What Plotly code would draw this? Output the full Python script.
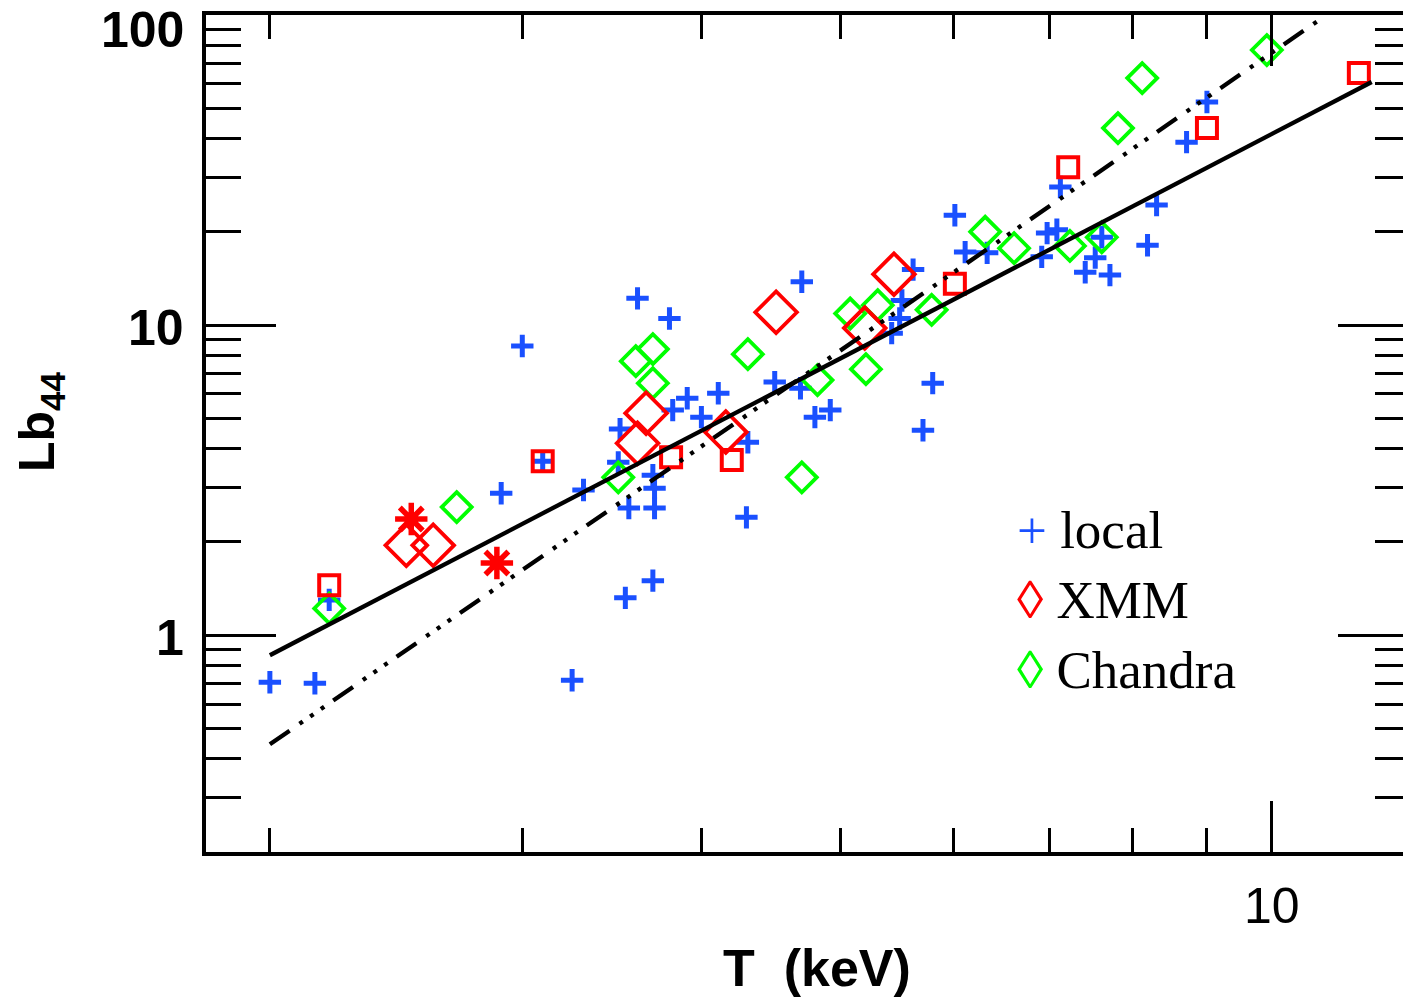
import math
import plotly.graph_objects as go

# Local cluster sample: temperature (keV) and bolometric luminosity (1e44 erg/s)
local_T = [2.00, 2.15, 2.20, 2.90, 3.00, 3.10, 3.25, 3.31, 3.50, 3.51,
           3.54, 3.56, 3.61, 3.70, 3.71, 3.71, 3.70, 3.80, 3.82, 3.91,
           4.00, 4.11, 4.30, 4.31, 4.50, 4.69, 4.70, 4.80, 4.92, 5.43,
           5.50, 5.52, 5.62, 5.71, 5.80, 6.01, 6.11, 6.33, 6.91, 6.97,
           7.08, 7.12, 7.41, 7.53, 7.61, 7.71, 8.19, 8.31, 8.72, 9.01]
local_L = [0.705, 0.700, 1.30, 2.87, 8.56, 3.64, 0.716, 2.94, 3.61, 4.62,
           1.32, 2.57, 12.2, 3.28, 2.98, 2.57, 1.50, 10.5, 5.32, 5.81,
           5.05, 6.03, 2.40, 4.19, 6.55, 6.26, 13.8, 5.05, 5.32, 9.42,
           10.5, 12.0, 15.1, 4.58, 6.50, 22.6, 17.2, 17.1, 16.6, 19.8,
           20.3, 27.9, 14.8, 16.5, 19.2, 14.5, 18.1, 24.4, 38.9, 52.4]

# XMM clusters (diamonds), XMM squares and XMM asterisks
xmm_T = [2.49, 2.60, 3.61, 3.66, 4.16, 4.51, 5.20, 5.45]
xmm_L = [1.95, 1.95, 4.16, 5.20, 4.52, 11.0, 9.78, 14.6]
xmm_sq_T = [2.20, 3.10, 3.81, 4.20, 6.01, 7.21, 9.01, 11.5]
xmm_sq_L = [1.45, 3.64, 3.75, 3.67, 13.6, 32.3, 43.2, 65.0]
xmm_star_T = [2.51, 2.88]
xmm_star_L = [2.37, 1.71]

# Chandra clusters
chandra_T = [2.20, 2.70, 3.50, 3.60, 3.70, 3.70, 4.31, 4.70, 4.82, 5.08,
             5.21, 5.31, 5.79, 6.31, 6.61, 7.23, 7.61, 7.81, 8.12, 9.92]
chandra_L = [1.22, 2.59, 3.23, 7.65, 8.37, 6.50, 8.06, 3.23, 6.65, 10.9,
             7.21, 11.6, 11.2, 20.0, 17.7, 18.0, 19.2, 43.2, 62.6, 77.1]

# Power-law fits (end points; straight on log-log axes)
fit_solid_T = [2.0, 11.74]
fit_solid_L = [0.862, 60.8]
fit_dash_T = [2.0, 10.84]
fit_dash_L = [0.445, 97.8]

# Axis ticks
x_major = [10]
x_minor = [2, 3, 4, 5, 6, 7, 8, 9]
y_major = [1, 10, 100]
y_minor = [0.2, 0.3, 0.4, 0.5, 0.6, 0.7, 0.8, 0.9,
           2, 3, 4, 5, 6, 7, 8, 9,
           20, 30, 40, 50, 60, 70, 80, 90]
y_labels = ["1", "10", "100"]

BLUE = "#1a50ff"
RED = "#ff0000"
GREEN = "#00ff00"

W, H = 1403, 998
ML, MR, MT, MB = 206, 0, 15, 146
PW, PH = W - ML - MR, H - MT - MB


def px(xp):
    return (xp - ML) / PW


def py(yp):
    return 1 - (yp - MT) / PH


fig = go.Figure()

fig.add_trace(go.Scatter(
    x=local_T, y=local_L, mode="markers",
    marker=dict(symbol="cross-thin", size=16, color=BLUE,
                line=dict(color=BLUE, width=5))))
fig.add_trace(go.Scatter(
    x=chandra_T, y=chandra_L, mode="markers",
    marker=dict(symbol="diamond-open", size=23, color=GREEN,
                line=dict(color=GREEN, width=3.8))))
fig.add_trace(go.Scatter(
    x=xmm_T, y=xmm_L, mode="markers",
    marker=dict(symbol="diamond-open", size=32, color=RED,
                line=dict(color=RED, width=3.8))))
fig.add_trace(go.Scatter(
    x=xmm_sq_T, y=xmm_sq_L, mode="markers",
    marker=dict(symbol="square-open", size=20, color=RED,
                line=dict(color=RED, width=4))))
fig.add_trace(go.Scatter(
    x=xmm_star_T, y=xmm_star_L, mode="markers",
    marker=dict(symbol="asterisk-open", size=27, color=RED,
                line=dict(color=RED, width=5.5))))

fig.add_trace(go.Scatter(
    x=fit_solid_T, y=fit_solid_L, mode="lines",
    line=dict(color="black", width=4.3)))
fig.add_trace(go.Scatter(
    x=fit_dash_T, y=fit_dash_L, mode="lines",
    line=dict(color="black", width=4.3,
              dash="24px,12px,4px,9px,4px,9px,4px,11px")))

# placeholder trace so the right-hand axis is drawn
fig.add_trace(go.Scatter(x=[None], y=[None], yaxis="y2", hoverinfo="skip"))

xr = [math.log10(1.805), math.log10(1.805) + PW / 1433.5]
yr = [math.log10(0.2), 2.0]

fig.update_layout(
    width=W, height=H,
    margin=dict(l=ML, r=MR, t=MT, b=MB, pad=0),
    paper_bgcolor="white", plot_bgcolor="white",
    showlegend=False,
    xaxis=dict(type="log", range=xr, showgrid=False, zeroline=False,
               showline=True, linewidth=4, linecolor="black", mirror="ticks",
               ticks="inside", tickmode="array", tickvals=x_major,
               ticklen=51, tickwidth=3, tickcolor="black",
               showticklabels=False,
               minor=dict(tickmode="array", tickvals=x_minor, ticks="inside",
                          ticklen=24, tickwidth=3, tickcolor="black")),
    yaxis=dict(type="log", range=yr, showgrid=False, zeroline=False,
               showline=True, linewidth=4, linecolor="black",
               ticks="inside", tickmode="array", tickvals=y_major,
               ticklen=70, tickwidth=3, tickcolor="black",
               showticklabels=False,
               minor=dict(tickmode="array", tickvals=y_minor, ticks="inside",
                          ticklen=35, tickwidth=3, tickcolor="black")),
    yaxis2=dict(type="log", range=yr, overlaying="y", side="right",
                anchor="x", showgrid=False, zeroline=False, showline=False,
                ticks="inside", tickmode="array", tickvals=y_major,
                ticklen=65, tickwidth=3, tickcolor="black",
                showticklabels=False,
                minor=dict(tickmode="array", tickvals=y_minor, ticks="inside",
                           ticklen=28, tickwidth=3, tickcolor="black")),
)

ann = []
# y tick labels
for v, lab in zip(y_major, y_labels):
    ann.append(dict(xref="paper", x=0, xanchor="right", xshift=-20,
                    yref="y", y=math.log10(v), yanchor="middle",
                    yshift=-15 if v == 100 else -3,
                    text="<b>%s</b>" % lab, showarrow=False,
                    font=dict(family="Liberation Sans", size=50, color="black")))
# x tick label
ann.append(dict(xref="x", x=math.log10(10), xanchor="center",
                yref="paper", y=0, yanchor="middle", yshift=-54,
                text="10", showarrow=False,
                font=dict(family="Liberation Sans", size=50, color="black")))
# axis titles
ann.append(dict(xref="paper", x=px(817), xanchor="center",
                yref="paper", y=py(968), yanchor="middle",
                text="<b>T\u00a0 (keV)</b>", showarrow=False,
                font=dict(family="Liberation Sans", size=52, color="black")))
ann.append(dict(xref="paper", x=px(40), xanchor="center",
                yref="paper", y=py(422), yanchor="middle", textangle=-90,
                text="<b>Lb<sub>44</sub></b>", showarrow=False,
                font=dict(family="Liberation Sans", size=50, color="black")))
# legend
legend_items = [("+", BLUE, "local", 530),
                ("\u25ca", RED, "XMM", 600),
                ("\u25ca", GREEN, "Chandra", 670)]
for glyph, col, name, yc in legend_items:
    ann.append(dict(xref="paper", x=px(1015), xanchor="left",
                    yref="paper", y=py(yc), yanchor="middle",
                    text="<span style='color:%s'>%s</span> %s" % (col, glyph, name),
                    showarrow=False,
                    font=dict(family="Liberation Serif", size=53, color="black")))
fig.update_layout(annotations=ann)

fig.write_html("out.html")
